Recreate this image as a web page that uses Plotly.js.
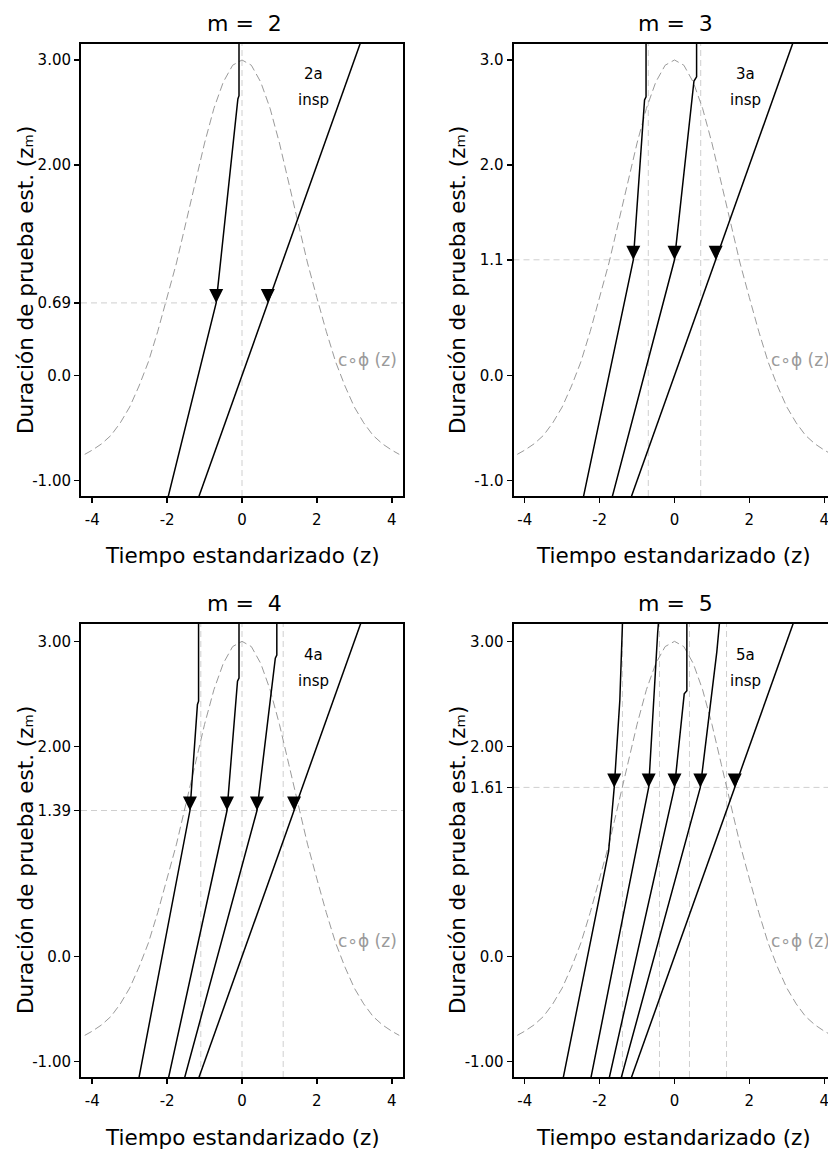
<!DOCTYPE html>
<html><head><meta charset="utf-8">
<script src="https://cdn.plot.ly/plotly-3.0.1.min.js"></script>
<style>
html,body{margin:0;padding:0;overflow:hidden;background:#fff;width:828px;height:1153px}
#chart{width:880px;height:1153px}
</style>
</head><body><div id="chart"></div>
<script>
// ---- data ----
const bellZ = [-4.2,-4.0,-3.75,-3.5,-3.25,-3.0,-2.75,-2.5,-2.25,-2.0,-1.75,-1.5,-1.25,-1.0,-0.75,-0.5,-0.25,0,0.25,0.5,0.75,1.0,1.25,1.5,1.75,2.0,2.25,2.5,2.75,3.0,3.25,3.5,3.75,4.0,4.2];
const bellY = [-0.75,-0.71,-0.65,-0.57,-0.45,-0.30,-0.10,0.13,0.42,0.74,1.07,1.45,1.83,2.21,2.54,2.79,2.95,3.00,2.95,2.79,2.54,2.21,1.83,1.45,1.07,0.74,0.42,0.13,-0.10,-0.30,-0.45,-0.57,-0.65,-0.71,-0.75];

const panelTitles = ['m =  2', 'm =  3', 'm =  4', 'm =  5'];
const inspLabels = ['2a', '3a', '4a', '5a'];
const zmLevels = [0.69, 1.1, 1.39, 1.61];
const xTitle = 'Tiempo estandarizado (z)';
const yTitle = 'Duración de prueba est. (zₘ)';
const curveLabel = 'c∘ϕ (z)';

const xTickVals = [-4, -2, 0, 2, 4];
const xTickText = ['-4', '-2', '0', '2', '4'];
const yTickVals = [[3, 2, 0.69, 0, -1], [3, 2, 1.1, 0, -1], [3, 2, 1.39, 0, -1], [3, 2, 1.61, 0, -1]];
const yTickText = [['3.00','2.00','0.69','0.0','-1.00'], ['3.0','2.0','1.1','0.0','-1.0'], ['3.00','2.00','1.39','0.0','-1.00'], ['3.00','2.00','1.61','0.0','-1.00']];

// inspection markers (z positions at level z_m)
const m2MarkZ = [-0.69, 0.69];
const m3MarkZ = [-1.1, 0.0, 1.1];
const m4MarkZ = [-1.39, -0.40, 0.40, 1.39];
const m5MarkZ = [-1.61, -0.69, 0.0, 0.69, 1.61];

// vertical reference lines (previous inspection points)
const m2Prev = [0];
const m3Prev = [-0.70, 0.70];
const m4Prev = [-1.1, 0.0, 1.1];
const m5Prev = [-1.39, -0.40, 0.40, 1.39];

// trajectories
const m2LineZ = [[-1.97,-0.69,-0.11,-0.08,-0.08], [-1.15,3.17]];
const m2LineY = [[-1.15, 0.69, 2.63, 2.66, 3.17], [-1.15,3.17]];
const m3LineZ = [[-2.43,-1.10,-0.80,-0.76,-0.76], [-1.66,0.00,0.52,0.59,0.59], [-1.15,3.17]];
const m3LineY = [[-1.15, 1.10, 2.62, 2.65, 3.17], [-1.15,1.10,2.80,2.84,3.17], [-1.15,3.17]];
const m4LineZ = [[-2.75,-1.39,-1.19,-1.16,-1.16], [-1.96,-0.40,-0.12,-0.08,-0.08], [-1.53,0.40,0.89,0.93,0.93], [-1.15,3.17]];
const m4LineY = [[-1.15, 1.39, 2.40, 2.43, 3.17], [-1.15,1.39,2.62,2.65,3.17], [-1.15,1.39,2.84,2.87,3.17], [-1.15,3.17]];
const m5LineZ = [[-2.97,-1.76,-1.61,-1.46,-1.39], [-2.23,-0.69,-0.45,-0.43], [-1.74,0.00,0.26,0.33,0.33], [-1.42,0.69,1.13,1.20], [-1.15,3.17]];
const m5LineY = [[-1.15, 1.00, 1.61, 2.44, 3.17], [-1.15,1.61,3.08,3.17], [-1.15,1.61,2.50,2.53,3.17], [-1.15,1.61,2.90,3.17], [-1.15,3.17]];

// ---- layout geometry (pixels) ----
const W = 880, H = 1153;
const FONT = 'DejaVu Sans';
const geom = [
  {x0: 81, x1: 403, y0: 44, y1: 496, yr: [-1.146, 3.152], tx: 245, ty: 23, ax: 242, ay: 555, lx: 25, ly: 280},
  {x0: 513.5, x1: 835.5, y0: 44, y1: 496, yr: [-1.146, 3.152], tx: 675.5, ty: 23, ax: 673, ay: 555, lx: 457, ly: 280},
  {x0: 81, x1: 403, y0: 624, y1: 1077, yr: [-1.146, 3.165], tx: 245, ty: 603, ax: 242, ay: 1137, lx: 25, ly: 860},
  {x0: 513.5, x1: 835.5, y0: 624, y1: 1077, yr: [-1.146, 3.165], tx: 675.5, ty: 603, ax: 673, ay: 1137, lx: 457, ly: 860}
];
const panelData = [
  {lz: m2LineZ, ly: m2LineY, mz: m2MarkZ, prev: m2Prev},
  {lz: m3LineZ, ly: m3LineY, mz: m3MarkZ, prev: m3Prev},
  {lz: m4LineZ, ly: m4LineY, mz: m4MarkZ, prev: m4Prev},
  {lz: m5LineZ, ly: m5LineY, mz: m5MarkZ, prev: m5Prev}
];

const traces = [], shapes = [], annotations = [];
const layout = {
  width: W, height: H, margin: {l: 0, r: 0, t: 0, b: 0},
  paper_bgcolor: '#fff', plot_bgcolor: '#fff', showlegend: false,
  font: {family: FONT, color: '#000'}
};

panelData.forEach((p, i) => {
  const s = i === 0 ? '' : String(i + 1);
  const g = geom[i];
  const xa = 'x' + s, ya = 'y' + s;
  layout['xaxis' + s] = {
    domain: [g.x0 / W, g.x1 / W], range: [-4.3, 4.3], anchor: ya,
    showgrid: false, zeroline: false, showline: true, mirror: true, linecolor: '#000', linewidth: 2,
    ticks: 'outside', ticklen: 5, tickwidth: 1.5, tickcolor: '#000', ticklabelstandoff: 4,
    tickmode: 'array', tickvals: xTickVals, ticktext: xTickText,
    tickfont: {family: FONT, size: 15, color: '#000'}, fixedrange: true
  };
  layout['yaxis' + s] = {
    domain: [1 - g.y1 / H, 1 - g.y0 / H], range: g.yr, anchor: xa,
    showgrid: false, zeroline: false, showline: true, mirror: true, linecolor: '#000', linewidth: 2,
    ticks: 'outside', ticklen: 5, tickwidth: 1.5, tickcolor: '#000',
    tickmode: 'array', tickvals: yTickVals[i], ticktext: yTickText[i],
    tickfont: {family: FONT, size: 15, color: '#000'}, fixedrange: true
  };

  // reference dashed lines
  p.prev.forEach(v => shapes.push({
    type: 'line', xref: xa, yref: ya + ' domain', x0: v, x1: v, y0: 0, y1: 1, layer: 'below',
    line: {color: '#cfcfcf', width: 1, dash: '6px,4px'}
  }));
  shapes.push({
    type: 'line', xref: xa + ' domain', yref: ya, x0: 0, x1: 1, y0: zmLevels[i], y1: zmLevels[i], layer: 'below',
    line: {color: '#cfcfcf', width: 1, dash: '6px,4px'}
  });

  // c*phi(z) curve
  traces.push({x: bellZ, y: bellY, xaxis: xa, yaxis: ya, mode: 'lines', hoverinfo: 'skip',
    line: {color: '#9a9a9a', width: 1, dash: '8px,4px'}});

  // trajectories
  p.lz.forEach((zz, k) => traces.push({x: zz, y: p.ly[k], xaxis: xa, yaxis: ya, mode: 'lines',
    hoverinfo: 'skip', line: {color: '#000', width: 1.5}}));

  // inspection markers
  traces.push({x: p.mz, y: p.mz.map(() => zmLevels[i]), xaxis: xa, yaxis: ya, mode: 'markers',
    hoverinfo: 'skip', cliponaxis: false,
    marker: {symbol: 'arrow-down', size: 14, color: '#000', line: {width: 0}}});

  // texts
  annotations.push({xref: 'paper', yref: 'paper', x: g.tx / W, y: 1 - g.ty / H, text: panelTitles[i],
    showarrow: false, xanchor: 'center', yanchor: 'middle', font: {family: FONT, size: 22, color: '#000'}});
  annotations.push({xref: 'paper', yref: 'paper', x: g.ax / W, y: 1 - g.ay / H, text: xTitle,
    showarrow: false, xanchor: 'center', yanchor: 'middle', font: {family: FONT, size: 21.5, color: '#000'}});
  annotations.push({xref: 'paper', yref: 'paper', x: g.lx / W, y: 1 - g.ly / H, text: yTitle,
    textangle: -90, showarrow: false, xanchor: 'center', yanchor: 'middle', font: {family: FONT, size: 21.5, color: '#000'}});
  annotations.push({xref: xa, yref: ya, x: 1.9, y: 2.87, text: inspLabels[i], showarrow: false,
    xanchor: 'center', yanchor: 'middle', font: {family: FONT, size: 15, color: '#000'}});
  annotations.push({xref: xa, yref: ya, x: 1.9, y: 2.62, text: 'insp', showarrow: false,
    xanchor: 'center', yanchor: 'middle', font: {family: FONT, size: 15, color: '#000'}});
  annotations.push({xref: xa, yref: ya, x: 2.52, y: 0.15, text: curveLabel, showarrow: false,
    xanchor: 'left', yanchor: 'middle', font: {family: FONT, size: 17, color: '#9a9a9a'}});
});

layout.shapes = shapes;
layout.annotations = annotations;
Plotly.newPlot('chart', traces, layout, {displayModeBar: false, staticPlot: true, responsive: false});
</script>
</body></html>
